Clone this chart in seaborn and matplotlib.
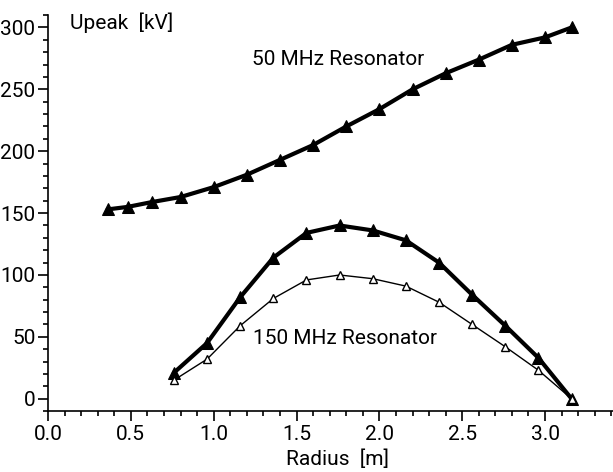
"""
Peak voltage along the radius for the 50 MHz and 150 MHz resonators.
"""
import numpy as np
import pandas as pd
import matplotlib
matplotlib.use('Agg')
import matplotlib.pyplot as plt
from matplotlib.ticker import MultipleLocator, FormatStrFormatter
import seaborn as sns

# 50 MHz resonator (thick, filled triangles)
r_50 = [0.36, 0.48, 0.63, 0.80, 1.00, 1.20, 1.40, 1.60, 1.80, 2.00,
        2.20, 2.40, 2.60, 2.80, 3.00, 3.16]
u_50 = [153, 155, 159, 163, 171, 181, 193, 205, 220, 234,
        250, 263, 274, 286, 292, 300]

# 150 MHz resonator, two curves
r_150 = [0.76, 0.96, 1.16, 1.36, 1.56, 1.76, 1.96, 2.16, 2.36, 2.56,
         2.76, 2.96, 3.16]
u_150_thick = [21, 45, 82, 114, 134, 140, 136, 128, 110, 84, 59, 33, 0]
u_150_thin = [15, 32, 59, 81, 96, 100, 97, 91, 78, 60, 42, 23, 0]


def main():
    sns.set_style('ticks')
    plt.rcParams['font.family'] = ['Roboto', 'DejaVu Sans']
    plt.rcParams['text.color'] = 'k'
    plt.rcParams['axes.labelcolor'] = 'k'

    fig = plt.figure(figsize=(6.13, 4.72), dpi=100)
    ax = fig.add_axes([0.0783, 0.129, 0.946, 0.839])

    df_50 = pd.DataFrame({'r': r_50, 'u': u_50})
    df_thick = pd.DataFrame({'r': r_150, 'u': u_150_thick})
    df_thin = pd.DataFrame({'r': r_150, 'u': u_150_thin})

    sns.lineplot(data=df_50, x='r', y='u', color='k', lw=3, marker='^',
                 ms=8, mfc='k', mec='k', ax=ax)
    sns.lineplot(data=df_thick, x='r', y='u', color='k', lw=3, marker='^',
                 ms=8, mfc='k', mec='k', ax=ax)
    sns.lineplot(data=df_thin, x='r', y='u', color='k', lw=1, marker='^',
                 ms=6, mfc='w', mec='k', mew=1, ax=ax)

    ax.set_xlim(0, 3.5)
    ax.set_ylim(-10, 310)
    ax.xaxis.set_major_locator(MultipleLocator(0.5))
    ax.xaxis.set_minor_locator(MultipleLocator(0.1))
    ax.yaxis.set_major_locator(MultipleLocator(50))
    ax.yaxis.set_minor_locator(MultipleLocator(10))
    ax.xaxis.set_major_formatter(FormatStrFormatter('%.1f'))
    ax.tick_params(axis='both', which='major', length=7, width=1.2,
                   labelsize=15, direction='out', color='k', labelcolor='k')
    ax.tick_params(axis='both', which='minor', length=3.5, width=1.2,
                   direction='out', color='k')
    ax.tick_params(axis='x', which='major', pad=3)
    ax.tick_params(axis='y', which='major', pad=2)

    ax.set_xlabel('Radius  [m]', fontsize=15, labelpad=4)
    ax.set_ylabel('')
    ax.text(0.13, 304, 'Upeak  [kV]', fontsize=15, ha='left', va='center')
    ax.text(1.75, 274, '50 MHz Resonator', fontsize=15, ha='center', va='center')
    ax.text(1.79, 49, '150 MHz Resonator', fontsize=15, ha='center', va='center')

    for side in ['left', 'bottom']:
        ax.spines[side].set_linewidth(1.2)
        ax.spines[side].set_color('k')
    sns.despine(ax=ax)

    fig.savefig('out.png', dpi=100)


if __name__ == '__main__':
    main()
